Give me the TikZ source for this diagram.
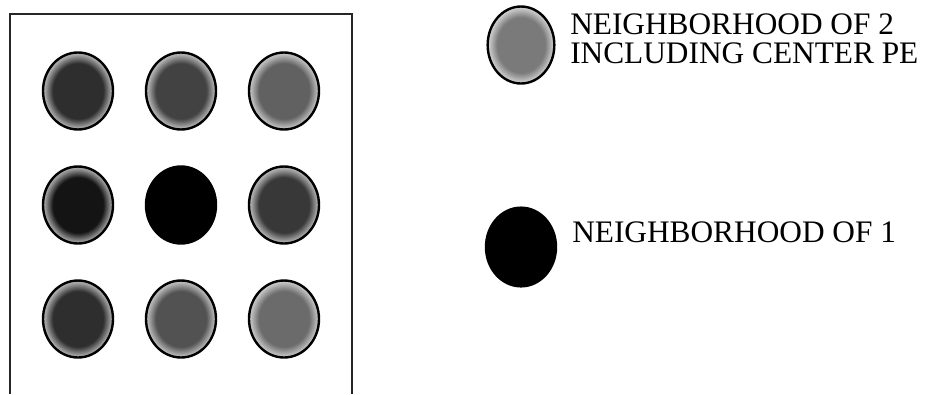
\documentclass[tikz,border=0pt]{standalone}
\usepackage{fontspec}
\setmainfont{Liberation Serif}
\usepackage{tikz}
\usetikzlibrary{positioning,shapes.geometric}
\colorlet{stipcore}{black!70}
\colorlet{stiprim}{black!30}
\pgfdeclareradialshading[stipcore,stiprim]{stipple}{\pgfpointorigin}{%
  color(0bp)=(stipcore); color(18bp)=(stipcore);
  color(24bp)=(stiprim); color(50bp)=(stiprim)}

\begin{document}
\begin{tikzpicture}[
  x=0.75pt, y=-0.75pt,
  node distance=27.75pt and 24.75pt,
  % processing element
  pe/.style={ellipse, draw=black, line width=1.8pt,
             minimum width=52.5pt, minimum height=57.75pt,
             inner sep=0pt, outer sep=0pt},
  % stippled PE (neighborhood of 2)
  stip/.style={pe, shading=stipple, shade,
               /utils/exec={\colorlet{stipcore}{black!#1}%
                            \colorlet{stiprim}{black!#1!white!40}}},
  % black PE (neighborhood of 1)
  pefull/.style={pe, fill=black},
  gridframe/.style={draw=black!85, line width=1.1pt},
  legtext/.style={font=\fontsize{23.5pt}{20.25pt}\selectfont,
                  anchor=base west, inner sep=0pt},
]
\useasboundingbox (0,0) rectangle (929,394);

%% -- PE array --------------------------------------------------------
\node[stip=82] (pe1) at (78,91)    {};
\node[stip=74] (pe2) [right=of pe1] {};
\node[stip=62] (pe3) [right=of pe2] {};
\node[stip=92] (pe4) [below=of pe1] {};
\node[pefull]  (pe5) [right=of pe4] {};
\node[stip=78] (pe6) [right=of pe5] {};
\node[stip=82] (pe7) [below=of pe4] {};
\node[stip=68] (pe8) [right=of pe7] {};
\node[stip=58] (pe9) [right=of pe8] {};

%% -- frame (open at the bottom) --------------------------------------
\coordinate (fbl) at (10,394);
\coordinate (ftl) at (10,14);
\coordinate (ftr) at (352,14);
\coordinate (fbr) at (352,394);
\draw[gridframe] (fbl) -- (ftl) -- (ftr) -- (fbr);

%% -- legend ----------------------------------------------------------
\node[stip=52, minimum width=50pt] (key2) at (521,45) {};
\node[legtext] (lab2a) at (570,34) {NEIGHBORHOOD OF 2};
\node[legtext] (lab2b) at (570,63) {INCLUDING CENTER PE};
\node[pefull, minimum height=59pt] (key1) at (521,247) {};
\node[legtext] (lab1) at (572,242) {NEIGHBORHOOD OF 1};

\end{tikzpicture}
\end{document}
